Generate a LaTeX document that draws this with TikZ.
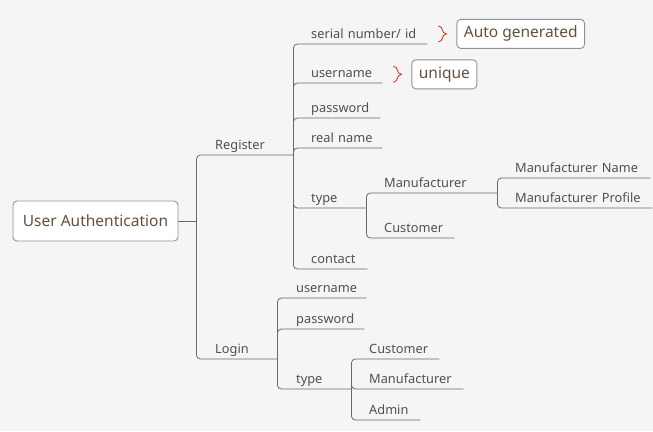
\documentclass[tikz,border=0pt]{standalone}
\usepackage{fontspec}
\setmainfont{Noto Sans}
\usepackage{xcolor}
\usepackage{tikz}
\usetikzlibrary{positioning, decorations.pathreplacing}
\definecolor{bggray}{HTML}{F5F5F5}
\definecolor{linegray}{HTML}{6A6A6A}
\definecolor{txtgray}{HTML}{505050}
\definecolor{topicbrown}{HTML}{65503F}
\definecolor{bracered}{HTML}{D93A2B}

\begin{document}
\begin{tikzpicture}[
    x=1pt, y=-1pt,
    topic/.style={draw=gray!85, fill=white, rounded corners=4pt, line width=0.9pt, inner xsep=7pt, font=\fontsize{15.5}{18}\selectfont, text=topicbrown},
    item/.style={anchor=south west, inner xsep=0pt, inner ysep=5pt, text depth=0pt, text width=#1, align=left, font=\fontsize{12.8}{15}\selectfont, text=txtgray},
    link/.style={draw=linegray, line width=0.8pt, rounded corners=4pt},
    curl/.style={draw=bracered, line width=0.9pt, decorate, decoration={brace, amplitude=8pt, aspect=0.5}},
]
\fill[bggray] (0,0) rectangle (653,431);
\useasboundingbox (0,0) rectangle (653,431);

\node[topic, minimum width=165pt, minimum height=40pt] (root) at (95.5,221) {User Authentication};
\coordinate (hub) at ([xshift=18pt]root.east);

\node[item=78pt] (register) at (215,155) {Register};
\node[item=62pt] (login) at (215,359) {Login};
\draw[link] (root.east) -- (hub);
\draw[link] (hub) |- (register.south east);
\draw[link] (hub) |- (login.south east);

\node[item=116pt] (serial) at (311,44) {serial number/ id};
\node[item=71pt] (runame) at (311,83) {username};
\node[item=69pt] (rpass) at (311,118) {password};
\node[item=71pt] (rreal) at (311,148) {real name};
\node[item=55pt] (rtype) at (311,208) {type};
\node[item=56pt] (contact) at (311,269) {contact};
\foreach \c in {serial, runame, rpass, rreal, rtype, contact}
    \draw[link] (register.south east) |- (\c.south east);

\node[item=113pt] (rmanu) at (384,193) {Manufacturer};
\node[item=70pt] (rcust) at (384,238) {Customer};
\foreach \c in {rmanu, rcust}
    \draw[link] (rtype.south east) |- (\c.south east);

\node[item=135pt] (mname) at (515,178) {Manufacturer Name};
\node[item=137pt] (mprof) at (515,208) {Manufacturer Profile};
\foreach \c in {mname, mprof}
    \draw[link] (rmanu.south east) |- (\c.south east);

\node[item=70pt] (luser) at (296,298) {username};
\node[item=68pt] (lpass) at (296,329) {password};
\node[item=55pt] (ltype) at (296,389) {type};
\foreach \c in {luser, lpass, ltype}
    \draw[link] (login.south east) |- (\c.south east);

\node[item=70pt] (lcust) at (369,359) {Customer};
\node[item=94pt] (lmanu) at (369,389) {Manufacturer};
\node[item=51pt] (ladmin) at (369,420) {Admin};
\foreach \c in {lcust, lmanu, ladmin}
    \draw[link] (ltype.south east) |- (\c.south east);

\node[topic, minimum height=29pt, right=29pt of serial] (auto) {Auto generated};
\node[topic, minimum height=29pt, right=29pt of runame] (uniq) {unique};
\draw[curl] ([xshift=11pt,yshift=8pt]serial.east) -- ([xshift=11pt,yshift=-8pt]serial.east);
\draw[curl] ([xshift=11pt,yshift=8pt]runame.east) -- ([xshift=11pt,yshift=-8pt]runame.east);
\end{tikzpicture}
\end{document}
